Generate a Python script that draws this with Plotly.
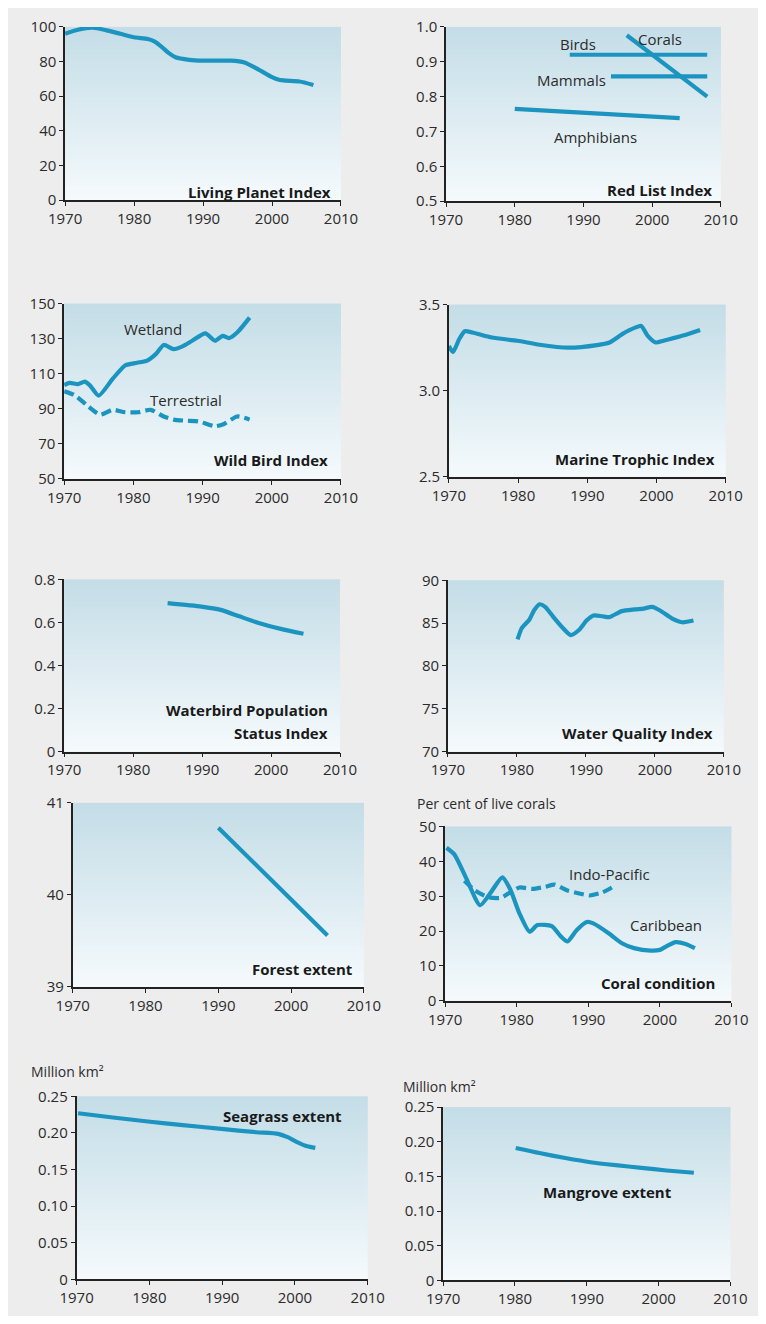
import base64, zlib, struct
import plotly.graph_objects as go

# ---------------- data ----------------
x_ticks = [1970, 1980, 1990, 2000, 2010]

lpi_years = [1970, 1972, 1974, 1976, 1978, 1980, 1982, 1983, 1984, 1985, 1986, 1988, 1990, 1992, 1994, 1996, 1998, 2000, 2001, 2002, 2004, 2006]
lpi_vals = [96, 98.5, 99.5, 98, 96, 94, 93, 91.5, 88.5, 85, 82.5, 81, 80.5, 80.5, 80.5, 79.5, 75.5, 71, 69.5, 69, 68.5, 66.5]

rli_birds_years = [1988, 2008]
rli_birds_vals = [0.92, 0.92]
rli_mammals_years = [1994, 2008]
rli_mammals_vals = [0.858, 0.858]
rli_corals_years = [1996.3, 2008]
rli_corals_vals = [0.976, 0.80]
rli_amph_years = [1980, 2004]
rli_amph_vals = [0.765, 0.738]

wbi_wet_years = [1970, 1970.8, 1972, 1973, 1973.8, 1975, 1977, 1978.8, 1980.2, 1982, 1983.2, 1984.4, 1985.8, 1987.1, 1988.5, 1990.4, 1991.8, 1992.9, 1993.8, 1995, 1996.8]
wbi_wet_vals = [103.5, 104.8, 104, 105.5, 103, 97.5, 107, 114.7, 116, 117.5, 121, 126.4, 124, 125.6, 128.8, 133, 128.8, 131.6, 130.3, 133.5, 142]
wbi_ter_years = [1970, 1971.5, 1973.3, 1975.2, 1977, 1978.8, 1980.7, 1982.5, 1984.4, 1985.8, 1987.6, 1989.4, 1991.8, 1993.1, 1995, 1996.8]
wbi_ter_vals = [100, 97.8, 92, 86.6, 89.4, 88, 88, 89.4, 85.6, 83.8, 83.2, 82.8, 80, 81.3, 85.6, 83.8]

mti_years = [1970, 1970.6, 1971.5, 1972.3, 1973.4, 1976.2, 1979.9, 1983.1, 1987.2, 1991.4, 1993.2, 1995.1, 1996.9, 1997.8, 1998.7, 1999.9, 2001, 2003.8, 2006.3]
mti_vals = [3.26, 3.225, 3.30, 3.345, 3.338, 3.309, 3.29, 3.267, 3.25, 3.265, 3.28, 3.33, 3.366, 3.376, 3.32, 3.28, 3.29, 3.32, 3.353]

wpsi_years = [1985, 1989.9, 1992.7, 1995.4, 1998.2, 2001.4, 2004.7]
wpsi_vals = [0.689, 0.673, 0.658, 0.628, 0.597, 0.57, 0.547]

wqi_years = [1980.1, 1980.7, 1981.8, 1982.5, 1983.3, 1984.1, 1985.3, 1986.7, 1987.8, 1989, 1990.1, 1991.1, 1992.4, 1993.4, 1995.2, 1997.1, 1998.4, 1999.6, 2000.7, 2002.6, 2004, 2005.6]
wqi_vals = [83.1, 84.4, 85.4, 86.5, 87.2, 86.9, 85.7, 84.4, 83.6, 84.2, 85.3, 85.9, 85.8, 85.7, 86.4, 86.6, 86.7, 86.9, 86.5, 85.5, 85.1, 85.3]

forest_years = [1990, 2000, 2005]
forest_vals = [40.73, 39.95, 39.56]

carib_years = [1970.2, 1971.3, 1972.9, 1974.9, 1976.4, 1978, 1979.1, 1980.4, 1981.8, 1982.9, 1984.9, 1986.2, 1987.1, 1988.4, 1989.8, 1990.7, 1992.9, 1994.7, 1996.4, 1998.7, 2000, 2000.9, 2002.2, 2003.6, 2004.9]
carib_vals = [43.9, 42, 35.4, 27.4, 31.1, 35.4, 32, 25, 19.8, 21.7, 21.4, 18.4, 17, 20.3, 22.6, 22.2, 19.3, 16.5, 15.1, 14.4, 14.6, 15.6, 16.8, 16.3, 15.1]
indo_years = [1972.7, 1974.2, 1976, 1977.8, 1979.1, 1980.4, 1982.2, 1984, 1985.3, 1987.1, 1988.9, 1990.2, 1992, 1993.3]
indo_vals = [34.4, 31.6, 29.7, 29.5, 31.1, 32.5, 32.1, 32.7, 33.3, 31.6, 30.7, 30.2, 31.1, 32.5]

seagrass_years = [1970.2, 1975, 1979.8, 1984.6, 1989.9, 1994.7, 1997.7, 1999, 2000.3, 2001.7, 2002.8]
seagrass_vals = [0.2268, 0.221, 0.2156, 0.2107, 0.2054, 0.2009, 0.1987, 0.1942, 0.1875, 0.1817, 0.1795]

mangrove_years = [1980.1, 1983.4, 1987, 1990.5, 1994, 1997.6, 2001.1, 2004.9]
mangrove_vals = [0.191, 0.1837, 0.1766, 0.1705, 0.1662, 0.1624, 0.1586, 0.1553]

# y tick labels
lpi_ticks = [0, 20, 40, 60, 80, 100]
rli_ticks = [0.5, 0.6, 0.7, 0.8, 0.9, 1.0]
rli_ticktext = ["0.5", "0.6", "0.7", "0.8", "0.9", "1.0"]
wbi_ticks = [50, 70, 90, 110, 130, 150]
mti_ticks = [2.5, 3.0, 3.5]
mti_ticktext = ["2.5", "3.0", "3.5"]
wpsi_ticks = [0, 0.2, 0.4, 0.6, 0.8]
wpsi_ticktext = ["0", "0.2", "0.4", "0.6", "0.8"]
wqi_ticks = [70, 75, 80, 85, 90]
forest_ticks = [39, 40, 41]
coral_ticks = [0, 10, 20, 30, 40, 50]
area_ticks = [0, 0.05, 0.10, 0.15, 0.20, 0.25]
area_ticktext = ["0", "0.05", "0.10", "0.15", "0.20", "0.25"]

# ---------------- layout (screen pixels) ----------------
W, H = 766, 1324
M = 8  # page body margin
FW, FH = W - 2 * M, H - 2 * M


def px(x):
    return (x - M) / FW


def py(y):
    return 1 - (y - M) / FH


# x0, x1, ytop, ybottom in screen pixels
boxes = [
    (50, 339, 16, 192),
    (449, 737, 16, 193),
    (49, 339, 297, 475),
    (452, 742, 298, 473),
    (49, 338, 577, 752),
    (451, 740, 578, 752),
    (58, 363, 804, 991),
    (448, 748, 828, 1005),
    (62, 367, 1102, 1288),
    (446, 747, 1113, 1289),
]
yranges = [[0, 100], [0.5, 1.0], [50, 150], [2.5, 3.5], [0, 0.8], [70, 90], [39, 41], [0, 50], [0, 0.25], [0, 0.25]]
ytickvals = [lpi_ticks, rli_ticks, wbi_ticks, mti_ticks, wpsi_ticks, wqi_ticks, forest_ticks, coral_ticks, area_ticks, area_ticks]
yticktext = [[str(v) for v in lpi_ticks], rli_ticktext, [str(v) for v in wbi_ticks], mti_ticktext, wpsi_ticktext,
             [str(v) for v in wqi_ticks], [str(v) for v in forest_ticks], [str(v) for v in coral_ticks], area_ticktext, area_ticktext]

LINE = "#1c94c0"
FONT = "Open Sans"
TXT = "#2b2b2b"
FS = 15


def gradient_png(top, bottom, n=128):
    rows = []
    for i in range(n):
        t = i / (n - 1)
        c = [round(top[k] + (bottom[k] - top[k]) * t) for k in range(3)]
        rows.append(b"\x00" + bytes(c))
    raw = b"".join(rows)

    def chunk(tag, data):
        return struct.pack(">I", len(data)) + tag + data + struct.pack(">I", zlib.crc32(tag + data) & 0xFFFFFFFF)

    png = (b"\x89PNG\r\n\x1a\n" + chunk(b"IHDR", struct.pack(">IIBBBBB", 1, n, 8, 2, 0, 0, 0))
           + chunk(b"IDAT", zlib.compress(raw)) + chunk(b"IEND", b""))
    return "data:image/png;base64," + base64.b64encode(png).decode()


grad = gradient_png((196, 221, 231), (245, 250, 252))

fig = go.Figure()


def add_line(i, xs, ys, dash="solid"):
    n = "" if i == 1 else str(i)
    fig.add_trace(go.Scatter(x=xs, y=ys, mode="lines", xaxis="x" + n, yaxis="y" + n,
                             line=dict(color=LINE, width=4.2, dash=dash, shape="spline", smoothing=0.6),
                             showlegend=False, hoverinfo="skip"))


DASH = "10px,5px"
add_line(1, lpi_years, lpi_vals)
add_line(2, rli_birds_years, rli_birds_vals)
add_line(2, rli_mammals_years, rli_mammals_vals)
add_line(2, rli_corals_years, rli_corals_vals)
add_line(2, rli_amph_years, rli_amph_vals)
add_line(3, wbi_wet_years, wbi_wet_vals)
add_line(3, wbi_ter_years, wbi_ter_vals, DASH)
add_line(4, mti_years, mti_vals)
add_line(5, wpsi_years, wpsi_vals)
add_line(6, wqi_years, wqi_vals)
add_line(7, forest_years, forest_vals)
add_line(8, carib_years, carib_vals)
add_line(8, indo_years, indo_vals, DASH)
add_line(9, seagrass_years, seagrass_vals)
add_line(10, mangrove_years, mangrove_vals)

layout = dict(width=FW, height=FH, margin=dict(l=0, r=0, t=0, b=0),
              paper_bgcolor="#ededed", plot_bgcolor="rgba(0,0,0,0)",
              font=dict(family=FONT, color=TXT, size=FS), showlegend=False)
images = []
for i, (x0, x1, yt, yb) in enumerate(boxes, start=1):
    n = "" if i == 1 else str(i)
    dx = [px(x0), px(x1)]
    dy = [py(yb), py(yt)]
    layout["xaxis" + n] = dict(domain=dx, anchor="y" + n, range=[1970, 2010], tickvals=x_ticks,
                               showline=True, linecolor="#222", linewidth=1.6, ticks="outside", ticklen=4,
                               tickcolor="#222", showgrid=False, zeroline=False, fixedrange=True,
                               tickfont=dict(size=FS, color=TXT))
    layout["yaxis" + n] = dict(domain=dy, anchor="x" + n, range=yranges[i - 1], tickvals=ytickvals[i - 1],
                               ticktext=yticktext[i - 1], showline=True, linecolor="#222", linewidth=1.6,
                               ticks="outside", ticklen=4, tickcolor="#222", showgrid=False, zeroline=False,
                               fixedrange=True, tickfont=dict(size=FS, color=TXT))
    images.append(dict(source=grad, xref="paper", yref="paper", x=dx[0], y=dy[1], sizex=dx[1] - dx[0],
                       sizey=dy[1] - dy[0], sizing="stretch", xanchor="left", yanchor="top", layer="below"))
layout["images"] = images

ann = []


def title(i, text, x, y, xanchor="right"):
    n = "" if i == 1 else str(i)
    ann.append(dict(text="<b>" + text + "</b>", xref="x" + n + " domain", yref="y" + n + " domain", x=x, y=y,
                    xanchor=xanchor, yanchor="middle", showarrow=False, font=dict(size=FS, color="#1a1a1a")))


def label(i, text, x, y):
    n = "" if i == 1 else str(i)
    ann.append(dict(text=text, xref="x" + n, yref="y" + n, x=x, y=y, xanchor="center", yanchor="middle",
                    showarrow=False, font=dict(size=FS, color=TXT)))


title(1, "Living Planet Index", 0.97, 0.05)
title(2, "Red List Index", 0.976, 0.062)
title(3, "Wild Bird Index", 0.962, 0.107)
title(4, "Marine Trophic Index", 0.969, 0.103)
title(5, "Waterbird Population", 0.962, 0.24)
title(5, "Status Index", 0.962, 0.109)
title(6, "Water Quality Index", 0.969, 0.109)
title(7, "Forest extent", 0.97, 0.096)
title(8, "Coral condition", 0.95, 0.10)
title(9, "Seagrass extent", 0.92, 0.892)
title(10, "Mangrove extent", 0.571, 0.511, xanchor="center")

label(2, "Birds", 1989.2, 0.952)
label(2, "Corals", 2001.2, 0.965)
label(2, "Mammals", 1988.3, 0.848)
label(2, "Amphibians", 1991.8, 0.685)
label(3, "Wetland", 1982.8, 135.4)
label(3, "Terrestrial", 1987.6, 95)
label(8, "Indo-Pacific", 1992.9, 36.3)
label(8, "Caribbean", 2000.9, 21.7)

for text, ax, ay in [("Per cent of live corals", 417, 805), ("Million km²", 12, 1077), ("Million km²", 402, 1092)]:
    ann.append(dict(text=text, xref="paper", yref="paper", x=px(ax), y=py(ay), xanchor="left",
                    yanchor="middle", showarrow=False, font=dict(size=FS - 1, color=TXT)))

layout["annotations"] = ann
fig.update_layout(**layout)
fig.write_html("out.html")
